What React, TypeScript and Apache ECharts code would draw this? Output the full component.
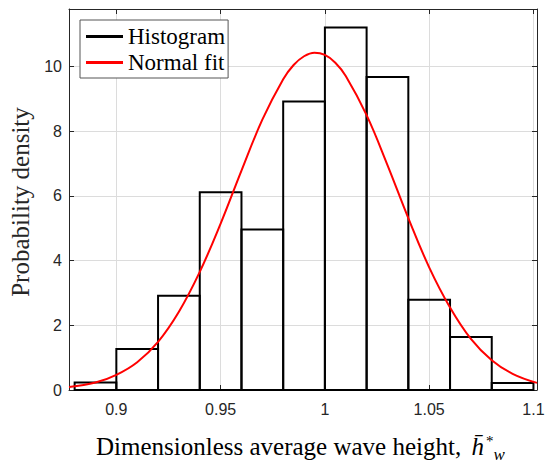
import React, { useEffect, useRef } from "react";
import * as echarts from "echarts";

// Histogram bins (left edge, right edge) and density values
const binEdges = [0.88, 0.9, 0.92, 0.94, 0.96, 0.98, 1.0, 1.02, 1.04, 1.06, 1.08, 1.1];
const binDensity = [0.23, 1.27, 2.91, 6.11, 4.96, 8.91, 11.2, 9.67, 2.79, 1.64, 0.22];

// Normal fit curve
const fitX = [0.8773, 0.89, 0.9, 0.91, 0.92, 0.93, 0.94, 0.95, 0.96, 0.97, 0.98, 0.985, 0.99, 0.995, 1.0, 1.005, 1.01, 1.02, 1.03, 1.04, 1.05, 1.06, 1.07, 1.08, 1.09, 1.1017];
const fitY = [0.09, 0.23, 0.47, 0.86, 1.49, 2.42, 3.65, 5.14, 6.78, 8.35, 9.6, 10.04, 10.31, 10.42, 10.35, 10.11, 9.7, 8.49, 6.95, 5.31, 3.79, 2.55, 1.58, 0.92, 0.5, 0.22];

const xTicks = [0.9, 0.95, 1, 1.05, 1.1];
const xTickLabels = ["0.9", "0.95", "1", "1.05", "1.1"];
const xMin = 0.8773;
const xMax = 1.1017;
const yMax = 11.77;

const SERIF = "Liberation Serif";
const SANS = "Liberation Sans";
const AX = "#262626";

export default function App() {
  const ref = useRef<HTMLDivElement>(null);
  useEffect(() => {
    if (!ref.current) return;
    const chart = echarts.init(ref.current, undefined, { renderer: "svg" });
    const histData = binDensity.map((h, i) => [binEdges[i], binEdges[i + 1], h]);
    const fitData = fitX.map((x, i) => [x, fitY[i]]);
    const axisCommon = {
      type: "value" as const,
      axisLine: { show: true, onZero: false, lineStyle: { color: AX, width: 1 } },
      axisTick: { show: true, inside: true, length: 5, lineStyle: { color: AX } },
    };
    chart.setOption({
      animation: false,
      backgroundColor: "#fff",
      grid: { left: 69, top: 9, right: 8, bottom: 74, containLabel: false, outerBoundsMode: "none" },
      xAxis: [
        {
          ...axisCommon,
          position: "bottom",
          min: xMin,
          max: xMax,
          axisTick: { ...axisCommon.axisTick, customValues: xTicks },
          axisLabel: {
            customValues: xTicks,
            formatter: (v: number) => xTickLabels[xTicks.findIndex((t) => Math.abs(t - v) < 1e-9)] ?? "",
            color: AX,
            fontFamily: SANS,
            fontSize: 16,
            margin: 11,
          },
          splitLine: { show: true, lineStyle: { color: "#dcdcdc", width: 1 } },
        },
        {
          ...axisCommon,
          position: "top",
          min: xMin,
          max: xMax,
          axisTick: { ...axisCommon.axisTick, customValues: xTicks },
          axisLabel: { show: false },
          splitLine: { show: false },
        },
      ],
      yAxis: [
        {
          ...axisCommon,
          position: "left",
          min: 0,
          max: yMax,
          interval: 2,
          axisLabel: { color: AX, fontFamily: SANS, fontSize: 16, margin: 7, showMaxLabel: false },
          splitLine: { show: true, lineStyle: { color: "#dcdcdc", width: 1 } },
          name: "Probability density",
          nameLocation: "middle",
          nameRotate: 90,
          nameGap: 35,
          nameTextStyle: { fontFamily: SERIF, fontSize: 25, color: AX, padding: [0, 5, 0, 0] },
        },
        {
          ...axisCommon,
          position: "right",
          min: 0,
          max: yMax,
          interval: 2,
          axisLabel: { show: false },
          splitLine: { show: false },
        },
      ],
      legend: {
        left: 80,
        top: 20,
        orient: "vertical",
        backgroundColor: "#fff",
        borderColor: "#555",
        borderWidth: 1,
        borderRadius: 0,
        padding: [5, 3, 4, 6],
        itemWidth: 37,
        itemHeight: 3,
        itemGap: 3,
        textStyle: { fontFamily: SERIF, fontSize: 23, color: "#000", lineHeight: 22 },
        data: [
          { name: "Histogram", icon: "rect", itemStyle: { color: "#000" } },
          { name: "Normal fit", icon: "rect", itemStyle: { color: "#ff0000" } },
        ],
      },
      graphic: [
        {
          type: "text",
          left: 96,
          top: 429,
          style: {
            text: "{t|Dimensionless average wave height, }{h|h̄}{s|*}{w|w}",
            rich: {
              t: { fontFamily: SERIF, fontSize: 25, color: AX, lineHeight: 34, verticalAlign: "middle" },
              h: { fontFamily: SERIF, fontStyle: "italic", fontSize: 25, color: AX, lineHeight: 34, verticalAlign: "middle", padding: [0, 0, 0, 4] },
              s: { fontFamily: SERIF, fontSize: 15, color: AX, lineHeight: 34, verticalAlign: "top", padding: [4, 0, 0, 2] },
              w: { fontFamily: SERIF, fontStyle: "italic", fontSize: 17, color: AX, lineHeight: 34, verticalAlign: "bottom" },
            },
          },
        },
      ],
      series: [
        {
          name: "Histogram",
          type: "custom",
          xAxisIndex: 0,
          yAxisIndex: 0,
          data: histData,
          itemStyle: { color: "#000" },
          renderItem: (params: any, api: any) => {
            const x0 = api.value(0);
            const x1 = api.value(1);
            const h = api.value(2);
            const p0 = api.coord([x0, h]);
            const p1 = api.coord([x1, 0]);
            return {
              type: "rect",
              shape: { x: p0[0], y: p0[1], width: p1[0] - p0[0], height: p1[1] - p0[1] },
              style: { fill: "none", stroke: "#000", lineWidth: 2 },
            };
          },
          z: 3,
        },
        {
          name: "Normal fit",
          type: "line",
          xAxisIndex: 0,
          yAxisIndex: 0,
          data: fitData,
          smooth: 0.4,
          showSymbol: false,
          lineStyle: { color: "#ff0000", width: 2 },
          itemStyle: { color: "#ff0000" },
          z: 4,
        },
      ],
    });
    return () => chart.dispose();
  }, []);
  return <div ref={ref} style={{ position: "fixed", left: 0, top: 0, width: 545, height: 464 }} />;
}
